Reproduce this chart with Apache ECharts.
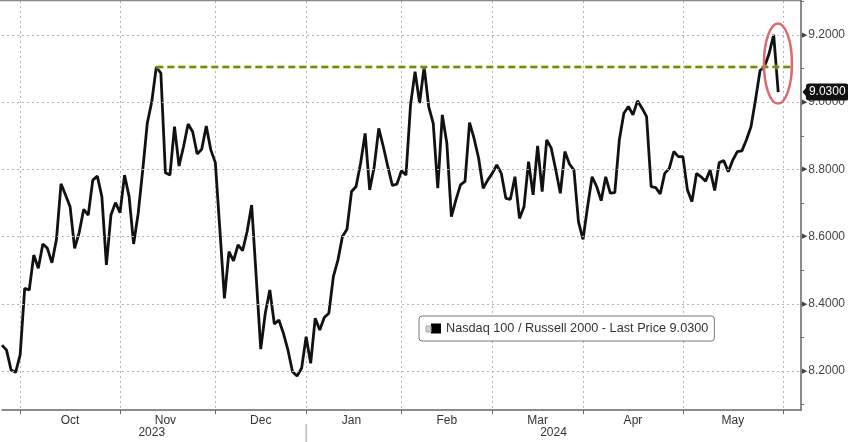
<!DOCTYPE html>
<html><head><meta charset="utf-8">
<script src="https://cdn.jsdelivr.net/npm/echarts@6/dist/echarts.min.js"></script>
<style>html,body{margin:0;padding:0;background:#fff}#c{width:848px;height:442px}</style>
</head><body><div id="c"></div>
<script>
const seriesName = 'Nasdaq 100 / Russell 2000';
// daily ratio, trading days, by month
const sep23 = [8.277, 8.262, 8.203, 8.196];
const oct23 = [8.248, 8.446, 8.441, 8.545, 8.506, 8.578, 8.565, 8.522, 8.592, 8.757, 8.724, 8.689, 8.565, 8.612, 8.681, 8.664, 8.768, 8.780, 8.719, 8.516, 8.664, 8.701];
const nov23 = [8.671, 8.783, 8.719, 8.578, 8.669, 8.798, 8.937, 9.002, 9.105, 9.086, 8.790, 8.783, 8.927, 8.810, 8.868, 8.935, 8.912, 8.846, 8.860, 8.929, 8.858];
const dec23 = [8.820, 8.620, 8.416, 8.555, 8.528, 8.575, 8.558, 8.615, 8.694, 8.481, 8.265, 8.372, 8.441, 8.340, 8.352, 8.312, 8.262, 8.198, 8.185, 8.208];
const jan24 = [8.302, 8.223, 8.357, 8.322, 8.359, 8.372, 8.481, 8.530, 8.600, 8.622, 8.734, 8.749, 8.818, 8.907, 8.739, 8.808, 8.922, 8.868, 8.808, 8.752, 8.756];
const feb24 = [8.796, 8.783, 8.992, 9.091, 8.997, 9.106, 8.987, 8.937, 8.744, 8.962, 8.878, 8.659, 8.709, 8.754, 8.764, 8.939, 8.892, 8.833, 8.744, 8.768];
const mar24 = [8.788, 8.813, 8.788, 8.714, 8.711, 8.778, 8.654, 8.689, 8.823, 8.724, 8.870, 8.734, 8.888, 8.863, 8.798, 8.729, 8.853, 8.816, 8.798, 8.644];
const apr24 = [8.592, 8.689, 8.778, 8.749, 8.707, 8.778, 8.729, 8.731, 8.888, 8.967, 8.987, 8.962, 9.004, 8.982, 8.957, 8.749, 8.746, 8.727, 8.788, 8.803, 8.853, 8.838];
const may24 = [8.838, 8.739, 8.704, 8.788, 8.778, 8.765, 8.798, 8.737, 8.820, 8.826, 8.793, 8.828, 8.853, 8.855, 8.888, 8.927, 9.007, 9.094, 9.106, 9.145, 9.200, 9.030];

const holidays = ['2023-11-23','2023-12-25','2024-01-01','2024-01-15','2024-02-19','2024-03-29','2024-05-27'];
const firstDay = '2023-09-26', lastDay = '2024-06-07';
const monthNames = ['Jan','Feb','Mar','Apr','May','Jun','Jul','Aug','Sep','Oct','Nov','Dec'];
const yLabelValues = [8.2, 8.4, 8.6, 8.8, 9.0, 9.2];
const yTickValues = [8.1, 8.2, 8.3, 8.4, 8.5, 8.6, 8.7, 8.8, 8.9, 9.0, 9.1, 9.2, 9.3];
const yMin = 8.084, yMax = 9.301;
const FONT = 'Liberation Sans';

function tradingDays(a, b, hol) {
  const out = []; const d = new Date(a + 'T00:00:00Z'); const e = new Date(b + 'T00:00:00Z');
  while (d <= e) {
    const w = d.getUTCDay(); const s = d.toISOString().slice(0, 10);
    if (w !== 0 && w !== 6 && !hol.includes(s)) out.push(s);
    d.setUTCDate(d.getUTCDate() + 1);
  }
  return out;
}
const cats = tradingDays(firstDay, lastDay, holidays);
const values = [].concat(sep23, oct23, nov23, dec23, jan24, feb24, mar24, apr24, may24);
const data = cats.map((c, i) => i < values.length ? values[i] : '-');
const lastVal = values[values.length - 1];
const prevHighBlock = [].concat(sep23, oct23, nov23);
const prevHighVal = Math.max(...prevHighBlock);
const prevHighIdx = prevHighBlock.indexOf(prevHighVal);

const groups = {};
cats.forEach((c, i) => { const k = c.slice(0, 7); (groups[k] = groups[k] || []).push(i); });
const monthStart = new Set(); const monthMid = new Map();
Object.keys(groups).forEach(k => {
  const idx = groups[k];
  if (k === firstDay.slice(0, 7)) return;
  monthStart.add(idx[0]);
  if (k !== lastDay.slice(0, 7)) monthMid.set(idx[Math.floor(idx.length / 2)], monthNames[+k.slice(5, 7) - 1]);
});

const chart = echarts.init(document.getElementById('c'), null, { renderer: 'canvas' });
const gridLine = { color: '#b5b5b5', type: [2, 3], width: 1 };
chart.setOption({
  animation: false,
  textStyle: { fontFamily: FONT },
  grid: { left: 2, right: 46, top: 1, bottom: 32 },
  legend: {
    data: [seriesName], left: 419, top: 316, padding: [6, 6, 6, 12],
    itemWidth: 10, itemHeight: 10, icon: 'rect',
    backgroundColor: '#fff', borderColor: '#777', borderWidth: 1, borderRadius: 3,
    textStyle: { fontSize: 12.7, color: '#333', fontFamily: FONT },
    formatter: n => n + ' - Last Price ' + lastVal.toFixed(4)
  },
  xAxis: {
    type: 'category', data: cats, boundaryGap: false,
    axisLine: { lineStyle: { color: '#666', width: 1.5 } },
    axisTick: { interval: i => monthStart.has(i), length: 4, lineStyle: { color: '#666' } },
    axisLabel: { interval: i => monthMid.has(i), formatter: (v, i) => monthMid.get(i) || '', margin: 5, color: '#333', fontSize: 12 },
    splitLine: { show: true, interval: i => monthStart.has(i), lineStyle: gridLine }
  },
  yAxis: {
    type: 'value', position: 'right', min: yMin, max: yMax,
    axisLine: { show: true, lineStyle: { color: '#666', width: 1.5 } },
    axisTick: { show: true, customValues: yTickValues, length: 3, lineStyle: { color: '#666' } },
    axisLabel: {
      customValues: yLabelValues, margin: 1,
      formatter: v => '{t|\u25B6}{v|' + Number(v).toFixed(4) + '}',
      rich: { t: { fontSize: 7, color: '#444', fontFamily: 'DejaVu Sans', padding: [0, 1, 0, 0] }, v: { fontSize: 12, color: '#444', fontFamily: FONT } }
    },
    splitLine: { show: false }
  },
  series: [
    {
      name: 'grid', type: 'line', data: data, symbol: 'none', silent: true, z: 1,
      lineStyle: { opacity: 0 },
      markLine: { silent: true, symbol: ['none', 'none'], label: { show: false }, lineStyle: gridLine,
        data: yLabelValues.map(v => ({ yAxis: v })) }
    },
    {
      name: seriesName, type: 'line', data: data, symbol: 'none', showSymbol: false, z: 3,
      lineStyle: { color: '#111', width: 2.8 }, itemStyle: { color: '#000' },
      markLine: {
        silent: true, symbol: ['none', 'none'], label: { show: false },
        data: [
          [{ coord: [prevHighIdx, prevHighVal], lineStyle: { color: '#6f8a1c', width: 2.4, type: [7, 4], shadowColor: '#d9ec80', shadowBlur: 3 } },
           { coord: [cats.length - 3, prevHighVal] }]
        ]
      }
    },
    {
      name: 'last', type: 'line', data: data, symbol: 'none', silent: true, z: 5,
      lineStyle: { opacity: 0 },
      markLine: {
        silent: true, symbol: ['none', 'none'],
        lineStyle: { color: 'rgba(0,0,0,0)', width: 0 },
        data: [{ yAxis: lastVal }],
        label: { show: true, position: 'end', distance: 5, formatter: () => lastVal.toFixed(4),
          backgroundColor: '#111', color: '#fff', fontSize: 12, fontFamily: FONT, padding: [3, 3, 2, 3], borderRadius: 3 }
      }
    }
  ]
});

// annotations positioned from data
const n = values.length;
const p1 = chart.convertToPixel({ seriesIndex: 1 }, [n - 2, values[n - 2]]);
const p2 = chart.convertToPixel({ seriesIndex: 1 }, [n - 1, values[n - 1]]);
const pl = chart.convertToPixel({ seriesIndex: 1 }, [cats.length - 1, lastVal]);
const xAt = i => chart.convertToPixel({ xAxisIndex: 0 }, cats[i]);
const firstIdx2024 = cats.findIndex(c => c.startsWith('2024'));
const c2023 = (xAt(0) + xAt(firstIdx2024 - 1)) / 2;
const c2024 = (xAt(firstIdx2024) + xAt(cats.length - 1)) / 2;
chart.setOption({
  graphic: [
    { type: 'ellipse', z: 100, shape: { cx: (p1[0] + p2[0]) / 2 + 2, cy: (p1[1] + p2[1]) / 2, rx: 14, ry: 40 },
      style: { fill: 'none', stroke: '#dc6a72', lineWidth: 2.5 } },
    { type: 'polygon', z: 100, shape: { points: [[pl[0] + 1.5, pl[1]], [pl[0] + 6, pl[1] - 5], [pl[0] + 6, pl[1] + 5]] }, style: { fill: '#111' } },
    { type: 'text', x: c2023, y: 433, style: { text: '2023', fill: '#333', font: '12px ' + FONT, textAlign: 'center', textVerticalAlign: 'middle' } },
    { type: 'text', x: c2024, y: 433, style: { text: '2024', fill: '#333', font: '12px ' + FONT, textAlign: 'center', textVerticalAlign: 'middle' } },
    { type: 'line', shape: { x1: xAt(firstIdx2024), y1: 424, x2: xAt(firstIdx2024), y2: 442 }, style: { stroke: '#999', lineWidth: 1 } },
    { type: 'line', shape: { x1: 0, y1: 0.5, x2: 802, y2: 0.5 }, style: { stroke: '#888', lineWidth: 1.5 } },
    { type: 'rect', shape: { x: 426, y: 326, width: 5, height: 6 }, style: { fill: '#d0d0d0', stroke: '#aaa', lineWidth: 1 }, z: 100 }
  ]
});
</script></body></html>
